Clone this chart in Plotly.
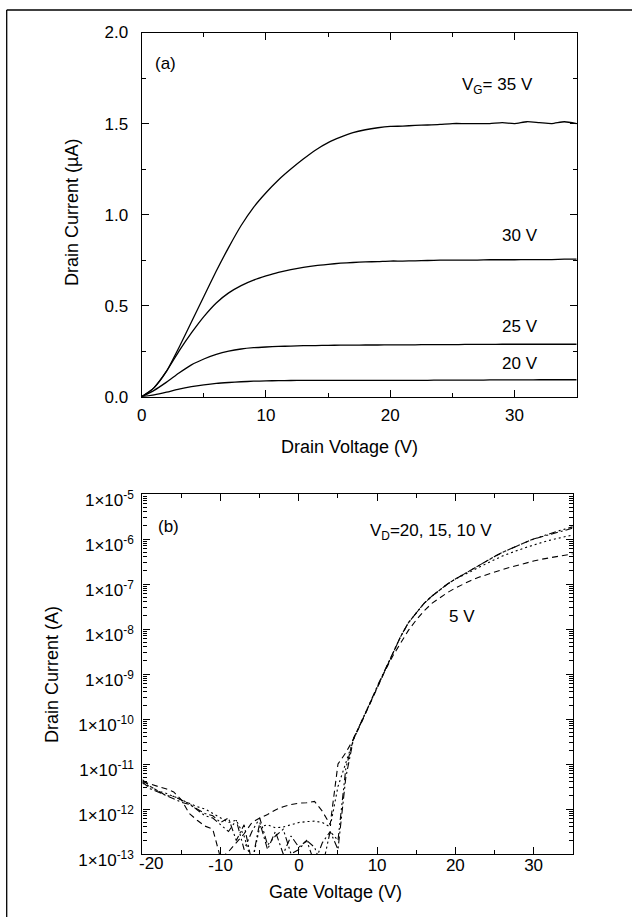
import numpy as np
import plotly.graph_objects as go

W, H = 632, 917
FONT = "Liberation Sans, Arial, sans-serif"

# ---------------- Panel (a): output characteristics (µA) ----------------
drain_v = list(range(0, 36))  # V
id_vg35 = [0.00, 0.05, 0.14, 0.27, 0.41, 0.55, 0.69, 0.82, 0.94, 1.04,
           1.12, 1.19, 1.25, 1.305, 1.355, 1.395, 1.425, 1.45, 1.466, 1.477,
           1.484, 1.486, 1.49, 1.492, 1.495, 1.50, 1.50, 1.50, 1.50, 1.505,
           1.50, 1.51, 1.505, 1.50, 1.51, 1.50]
id_vg30 = [0.00, 0.05, 0.14, 0.25, 0.35, 0.44, 0.515, 0.57, 0.61, 0.64,
           0.663, 0.683, 0.698, 0.71, 0.72, 0.727, 0.733, 0.737, 0.74, 0.742,
           0.745, 0.745, 0.746, 0.748, 0.75, 0.75, 0.75, 0.75, 0.752, 0.752,
           0.752, 0.753, 0.753, 0.753, 0.755, 0.755]
id_vg25 = [0.00, 0.035, 0.08, 0.13, 0.175, 0.207, 0.232, 0.25, 0.262, 0.269,
           0.273, 0.276, 0.278, 0.28, 0.281, 0.282, 0.283, 0.283, 0.284, 0.284,
           0.285, 0.285, 0.285, 0.286, 0.286, 0.286, 0.287, 0.287, 0.287, 0.288,
           0.288, 0.288, 0.288, 0.288, 0.288, 0.288]
id_vg20 = [0.00, 0.01, 0.025, 0.042, 0.055, 0.065, 0.073, 0.078, 0.082, 0.085,
           0.087, 0.088, 0.089, 0.09, 0.09, 0.09, 0.09, 0.09, 0.09, 0.09,
           0.09, 0.09, 0.09, 0.09, 0.091, 0.091, 0.091, 0.091, 0.092, 0.092,
           0.092, 0.092, 0.093, 0.093, 0.093, 0.093]

# ---------------- Panel (b): transfer characteristics (log10 of current in A) ----------------
gate_v = list(range(-20, 36))  # V
log_id_vd20 = [-11.35, -11.50, -11.60, -11.70, -11.72, -11.80, -11.88, -12.02, -12.15, -12.20,
               -12.35, -12.50, -12.25, -12.90, -12.50, -12.20, -12.80, -12.60, -12.45, -13.00,
               -12.90, -12.70, -12.85, -13.30, -12.50, -12.70, -11.10, -10.42, -10.06, -9.68,
               -9.28, -8.90, -8.52, -8.17, -7.86, -7.64, -7.43, -7.27, -7.13, -7.00,
               -6.89, -6.79, -6.69, -6.58, -6.48, -6.39, -6.30, -6.22, -6.14, -6.07,
               -6.00, -5.94, -5.88, -5.83, -5.78, -5.73]
log_id_vd15 = [-11.40, -11.55, -11.62, -11.70, -11.78, -11.85, -11.90, -12.00, -12.10, -12.15,
               -12.30, -12.20, -12.70, -12.35, -13.20, -12.30, -12.90, -12.50, -13.00, -12.60,
               -12.85, -12.70, -13.20, -12.75, -12.50, -12.90, -11.30, -10.43, -10.06, -9.68,
               -9.28, -8.90, -8.52, -8.17, -7.86, -7.64, -7.43, -7.27, -7.13, -7.00,
               -6.89, -6.79, -6.69, -6.58, -6.48, -6.39, -6.30, -6.22, -6.14, -6.07,
               -6.00, -5.95, -5.90, -5.85, -5.80, -5.76]
log_id_vd10 = [-11.43, -11.50, -11.60, -11.65, -11.72, -11.80, -11.88, -11.95, -12.00, -12.10,
               -12.20, -12.30, -12.25, -12.60, -13.20, -12.40, -12.35, -12.42, -12.40, -12.35,
               -12.30, -12.28, -12.27, -12.30, -12.40, -11.50, -11.00, -10.45, -10.06, -9.68,
               -9.28, -8.90, -8.52, -8.17, -7.86, -7.64, -7.43, -7.27, -7.13, -7.00,
               -6.89, -6.81, -6.72, -6.63, -6.54, -6.46, -6.38, -6.31, -6.25, -6.19,
               -6.13, -6.08, -6.03, -5.99, -5.95, -5.91]
log_id_vd5 = [-11.39, -11.45, -11.50, -11.55, -11.62, -11.80, -12.10, -12.25, -12.38, -12.45,
              -13.10, -12.95, -12.75, -12.55, -12.30, -12.20, -12.12, -12.02, -11.95, -11.90,
              -11.87, -11.86, -11.83, -12.05, -12.35, -11.00, -10.75, -10.44, -10.08, -9.70,
              -9.30, -8.93, -8.60, -8.30, -8.03, -7.80, -7.60, -7.43, -7.30, -7.19,
              -7.09, -7.00, -6.92, -6.85, -6.79, -6.73, -6.68, -6.63, -6.58, -6.53,
              -6.49, -6.45, -6.42, -6.39, -6.36, -6.33]

log_tick_exps = [-13, -12, -11, -10, -9, -8, -7, -6, -5]
log_tick_text = ["1×10<sup>%d</sup>" % e for e in log_tick_exps]
gate_ticks = [-20, -10, 0, 10, 20, 30]
gate_tick_text = ["", "-10", "0", "10", "20", "30"]  # "-20" drawn slightly right of its tick, as in the original

fig = go.Figure()

for ys in (id_vg35, id_vg30, id_vg25, id_vg20):
    fig.add_trace(go.Scatter(x=drain_v, y=ys, mode="lines",
                             line=dict(color="black", width=1.3, shape="spline", smoothing=0.6),
                             xaxis="x", yaxis="y", showlegend=False, hoverinfo="skip"))

for ys, dash in ((log_id_vd20, "7px,3px,2px,3px,2px,3px"), (log_id_vd15, "7px,3px,2px,3px"),
                 (log_id_vd10, "2px,3px"), (log_id_vd5, "6px,4px")):
    fig.add_trace(go.Scatter(x=gate_v, y=10 ** np.array(ys), mode="lines",
                             line=dict(color="black", width=1.1, dash=dash),
                             xaxis="x2", yaxis="y2", showlegend=False, hoverinfo="skip"))


def px(x):
    return x / W


def py(y):
    return 1 - y / H


tickfont = dict(family=FONT, size=17, color="black")
common = dict(showline=True, linecolor="black", linewidth=1.3, mirror="ticks",
              ticks="inside", ticklen=7, tickwidth=1.2, tickcolor="black",
              showgrid=False, zeroline=False, tickfont=tickfont, automargin=False)
minor_style = dict(ticks="inside", ticklen=4, tickwidth=1.1, tickcolor="black", showgrid=False)

fig.update_layout(
    width=W, height=H,
    margin=dict(l=0, r=0, t=0, b=0),
    paper_bgcolor="white", plot_bgcolor="white",
    xaxis=dict(domain=[px(141.7), px(576.7)], anchor="y", range=[0, 35],
               tickvals=[0, 10, 20, 30], ticklabelstandoff=3,
               minor=dict(tickvals=[5, 15, 25, 35], **minor_style),
               **common),
    yaxis=dict(domain=[py(396.7), py(32.5)], anchor="x", range=[0, 2],
               tickvals=[0, 0.5, 1.0, 1.5, 2.0], tickformat=".1f", ticklabelstandoff=9,
               minor=dict(tickvals=[0.25, 0.75, 1.25, 1.75], **minor_style),
               **common),
    xaxis2=dict(domain=[px(142.4), px(572.7)], anchor="y2", range=[-20, 35],
                tickvals=gate_ticks, ticktext=gate_tick_text, ticklabelstandoff=-5,
                minor=dict(tickvals=[-15, -5, 5, 15, 25, 35], **minor_style),
                **common),
    yaxis2=dict(domain=[py(854), py(494)], anchor="x2", type="log", range=[-13, -5],
                tickvals=[10.0 ** e for e in log_tick_exps], ticktext=log_tick_text,
                ticklabelstandoff=4, ticklabelshift=6,
                minor=dict(dtick="D1", **minor_style),
                **common),
)

ann_font = dict(family=FONT, size=17, color="black")
title_font = dict(family=FONT, size=18, color="black")
C = dict(showarrow=False, xanchor="center", yanchor="middle")
annotations = [
    # panel (a) labels
    dict(x=1.9, y=1.83, xref="x", yref="y", text="(a)", font=ann_font, **C),
    dict(x=28.6, y=1.706, xref="x", yref="y", text="V<sub>G</sub>= 35 V", font=ann_font, **C),
    dict(x=30.4, y=0.888, xref="x", yref="y", text="30 V", font=ann_font, **C),
    dict(x=30.4, y=0.388, xref="x", yref="y", text="25 V", font=ann_font, **C),
    dict(x=30.4, y=0.185, xref="x", yref="y", text="20 V", font=ann_font, **C),
    # panel (b) labels
    dict(x=-16.7, y=-5.73, xref="x2", yref="y2", text="(b)", font=ann_font, **C),
    dict(x=16.9, y=-5.84, xref="x2", yref="y2", text="V<sub>D</sub>=20, 15, 10 V", font=ann_font, **C),
    dict(x=20.9, y=-7.73, xref="x2", yref="y2", text="5 V", font=ann_font, **C),
    # first gate-voltage tick label, offset right of its tick as in the original
    dict(x=-18.9, y=py(863), xref="x2", yref="paper", text="-20", font=tickfont, **C),
    # axis titles
    dict(x=px(350), y=py(447), xref="paper", yref="paper", text="Drain Voltage (V)",
         font=title_font, **C),
    dict(x=px(72), y=py(213), xref="paper", yref="paper", text="Drain Current (µA)",
         textangle=-90, font=title_font, **C),
    dict(x=px(335), y=py(892), xref="paper", yref="paper", text="Gate Voltage (V)",
         font=title_font, **C),
    dict(x=px(52), y=py(675), xref="paper", yref="paper", text="Drain Current (A)",
         textangle=-90, font=title_font, **C),
]
fig.update_layout(annotations=annotations)

# outer frame (top and left edges)
fig.add_shape(type="line", xref="paper", yref="paper", x0=px(6.7), x1=1.0, y0=py(10), y1=py(10),
              line=dict(color="black", width=1.3))
fig.add_shape(type="line", xref="paper", yref="paper", x0=px(6.7), x1=px(6.7), y0=py(10), y1=0.0,
              line=dict(color="black", width=1.3))

fig.write_html("out.html")
